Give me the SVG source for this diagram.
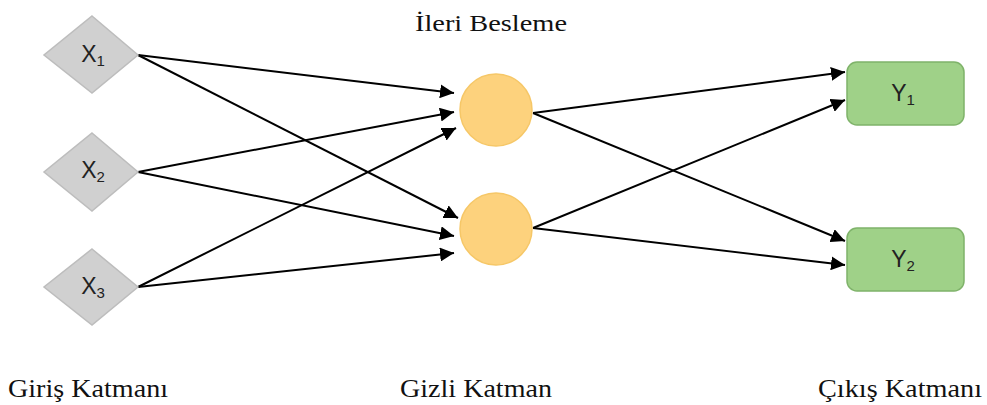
<svg xmlns="http://www.w3.org/2000/svg" width="987" height="405" viewBox="0 0 987 405">
<defs>
<style>
.in{fill:#d0d0d0;stroke:#bdbdbd;stroke-width:1.5}
.hid{fill:#fdd27d;stroke:#f6c767;stroke-width:1.5}
.out{fill:#9fd188;stroke:#7fb36a;stroke-width:1.5}
.lbl{font-family:"Liberation Sans","Open Sans",sans-serif;font-size:23px;fill:#222;text-anchor:middle}
.sub{font-size:15px}
.cap{font-family:"Liberation Serif",serif;font-size:26px;fill:#111}
.edge{stroke:#000;stroke-width:2;fill:none;marker-end:url(#ah)}
</style>
<marker id="ah" viewBox="0 0 10 10" refX="10" refY="5" markerWidth="7" markerHeight="7" markerUnits="strokeWidth" orient="auto">
<path d="M0,0 L10,5 L0,10 z" fill="#000"/>
</marker>
</defs>
<rect width="987" height="405" fill="#fff"/>
<text class="cap" x="415" y="31" style="font-size:23px" textLength="152" lengthAdjust="spacingAndGlyphs">İleri Besleme</text>
<g id="connectors">
<line class="edge" x1="138" y1="55" x2="454" y2="93"/>
<line class="edge" x1="138" y1="55" x2="458" y2="218"/>
<line class="edge" x1="138" y1="172" x2="454" y2="112"/>
<line class="edge" x1="138" y1="172" x2="454" y2="236"/>
<line class="edge" x1="138" y1="287" x2="456" y2="128"/>
<line class="edge" x1="138" y1="287" x2="454" y2="253"/>
<line class="edge" x1="533" y1="113" x2="845" y2="72"/>
<line class="edge" x1="533" y1="113" x2="845" y2="241"/>
<line class="edge" x1="533" y1="228" x2="845" y2="100"/>
<line class="edge" x1="533" y1="228" x2="845" y2="265"/>
</g>
<g id="x1"><polygon class="in" points="92,16 138,55 92,93 44,55"/><text class="lbl" x="93" y="62">X<tspan class="sub" dy="4">1</tspan></text></g>
<g id="x2"><polygon class="in" points="92,133 138,172 92,211 44,172"/><text class="lbl" x="93" y="178">X<tspan class="sub" dy="4">2</tspan></text></g>
<g id="x3"><polygon class="in" points="92,249 138,287 92,325 44,287"/><text class="lbl" x="93" y="294">X<tspan class="sub" dy="4">3</tspan></text></g>
<g id="h1"><circle class="hid" cx="496" cy="110" r="36"/></g>
<g id="h2"><circle class="hid" cx="496" cy="229" r="36"/></g>
<g id="y1"><rect class="out" x="847" y="62" width="117" height="63" rx="10"/><text class="lbl" x="903" y="101">Y<tspan class="sub" dy="4">1</tspan></text></g>
<g id="y2"><rect class="out" x="847" y="228" width="117" height="63" rx="10"/><text class="lbl" x="903" y="267">Y<tspan class="sub" dy="4">2</tspan></text></g>
<text class="cap" x="8" y="397" textLength="160" lengthAdjust="spacingAndGlyphs">Giriş Katmanı</text>
<text class="cap" x="400" y="397" textLength="152" lengthAdjust="spacingAndGlyphs">Gizli Katman</text>
<text class="cap" x="818" y="397" textLength="164" lengthAdjust="spacingAndGlyphs">Çıkış Katmanı</text>
</svg>
